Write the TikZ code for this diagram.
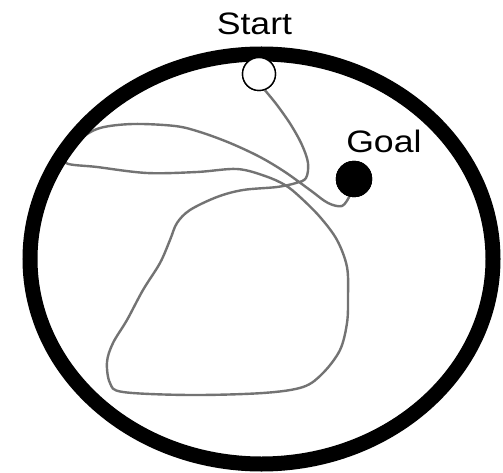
\documentclass[tikz,border=0pt]{standalone}
\usepackage{fontspec}
\setmainfont{Liberation Sans}
\usetikzlibrary{positioning}

\tikzset{
  wall/.style={line width=15pt},
  trail/.style={black!55, line width=2.4pt, line join=round},
  startmark/.style={draw, circle, fill=white, line width=1.4pt, minimum size=33pt, inner sep=0pt},
  goalmark/.style={draw, circle, fill=black, minimum size=36pt, inner sep=0pt},
  lbl/.style={inner sep=0pt, xscale=1.15, font=\fontsize{31}{31}\selectfont}
}

\begin{document}
\begin{tikzpicture}[x=1pt, y=-1pt]
      \useasboundingbox[fill=white] (0,0) rectangle (503,473);
      \node[startmark] (start) at (259,74) {};
      \node[goalmark] (goal) at (354,179) {};
      \node[lbl, above=22pt of start, xshift=-4pt] (startlbl) {Start};
      \node[lbl, above=8pt of goal, xshift=26pt] (goallbl) {Goal};
      \draw[trail] plot[smooth, tension=0.55] coordinates {
        (start.-70) (277,105) (291,125) (302,145) (308,163) (306,178)
        (296,183) (277,187) (243,190) (217,197) (190,210) (177,223)
        (170,240) (160,263) (143,290) (127,320) (113,343) (107,362)
        (110,383) (123,392) (190,395) (263,393) (303,387) (323,373)
        (340,350) (347,323) (348,297) (347,267) (337,240) (320,217)
        (300,197) (285,185) (265,176) (237,169) (197,172) (147,173)
        (97,167) (66,163) (70,150) (80,139) (100,128) (133,124)
        (175,126) (200,132) (230,143) (260,157) (285,172) (310,190)
        (328,203) (342,206) (goal.255)};
      \draw[wall] (261.5,259) ellipse [x radius=231.5, y radius=205];
      \node[startmark] at (start) {};
      \node[goalmark] at (goal) {};
    \end{tikzpicture}
\end{document}
